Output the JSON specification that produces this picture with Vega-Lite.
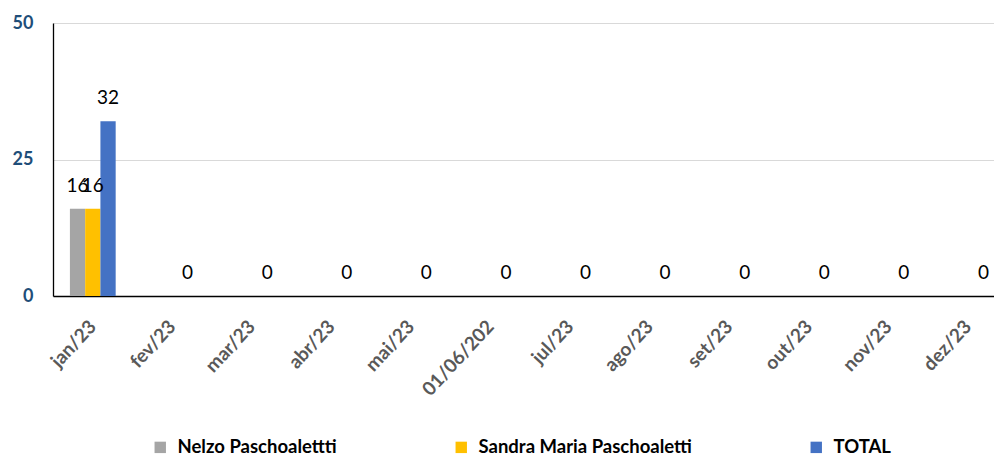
{
  "$schema": "https://vega.github.io/schema/vega-lite/v6.json",
  "autosize": "none",
  "width": 941,
  "height": 273,
  "padding": {"left": 53, "top": 23, "right": 0, "bottom": 160},
  "background": "white",
  "config": {"view": {"stroke": null}, "font": "Lato"},
  "data": {
    "values": [
      {"mes": "jan/23", "serie": "Nelzo Paschoalettti", "valor": 16},
      {"mes": "jan/23", "serie": "Sandra Maria Paschoaletti", "valor": 16},
      {"mes": "jan/23", "serie": "TOTAL", "valor": 32},
      {"mes": "fev/23", "serie": "TOTAL", "valor": 0},
      {"mes": "mar/23", "serie": "TOTAL", "valor": 0},
      {"mes": "abr/23", "serie": "TOTAL", "valor": 0},
      {"mes": "mai/23", "serie": "TOTAL", "valor": 0},
      {"mes": "01/06/202", "serie": "TOTAL", "valor": 0},
      {"mes": "jul/23", "serie": "TOTAL", "valor": 0},
      {"mes": "ago/23", "serie": "TOTAL", "valor": 0},
      {"mes": "set/23", "serie": "TOTAL", "valor": 0},
      {"mes": "out/23", "serie": "TOTAL", "valor": 0},
      {"mes": "nov/23", "serie": "TOTAL", "valor": 0},
      {"mes": "dez/23", "serie": "TOTAL", "valor": 0}
    ]
  },
  "encoding": {
    "x": {
      "field": "mes",
      "type": "nominal",
      "sort": null,
      "scale": {"range": [0, 955], "paddingInner": 0.425, "paddingOuter": 0.2125},
      "axis": {
        "title": null,
        "labelAngle": -47,
        "labelAlign": "right",
        "labelBaseline": "middle",
        "labelFont": "Lato",
        "labelFontSize": 19,
        "labelFontWeight": "bold",
        "labelColor": "#595959",
        "labelPadding": 27,
        "ticks": false,
        "domainColor": "#000000",
        "domainWidth": 1.5,
        "labelOverlap": false
      }
    },
    "xOffset": {"field": "serie", "type": "nominal", "sort": ["Nelzo Paschoalettti", "Sandra Maria Paschoaletti", "TOTAL"], "scale": {"paddingInner": 0, "paddingOuter": 0}},
    "y": {
      "field": "valor",
      "type": "quantitative",
      "scale": {"domain": [0, 50], "nice": false},
      "axis": {
        "title": null,
        "values": [0, 25, 50],
        "labelFont": "Lato",
        "labelFontSize": 18,
        "labelFontWeight": "bold",
        "labelColor": "#1F4E79",
        "labelPadding": 20,
        "ticks": false,
        "domainColor": "#000000",
        "domainWidth": 1.3,
        "gridColor": "#D9D9D9",
        "gridWidth": 1
      }
    }
  },
  "layer": [
    {
      "mark": {"type": "bar"},
      "encoding": {
        "color": {
          "field": "serie",
          "type": "nominal",
          "sort": ["Nelzo Paschoalettti", "Sandra Maria Paschoaletti", "TOTAL"],
          "scale": {"domain": ["Nelzo Paschoalettti", "Sandra Maria Paschoaletti", "TOTAL"], "range": ["#A5A5A5", "#FFC000", "#4472C4"]},
          "legend": {
            "title": null,
            "orient": "none",
            "direction": "horizontal",
            "legendX": 98,
            "legendY": 415,
            "symbolType": "square",
            "symbolSize": 130,
            "symbolStrokeWidth": 0,
            "labelFont": "Lato",
            "labelFontSize": 18.5,
            "labelFontWeight": "bold",
            "labelColor": "#000000",
            "labelLimit": 0,
            "columnPadding": 115,
            "labelOffset": 8
          }
        }
      }
    },
    {
      "mark": {"type": "text", "baseline": "alphabetic", "dy": -17, "font": "Lato", "fontSize": 19, "color": "#000000"},
      "encoding": {"text": {"field": "valor", "type": "quantitative"}}
    }
  ]
}
